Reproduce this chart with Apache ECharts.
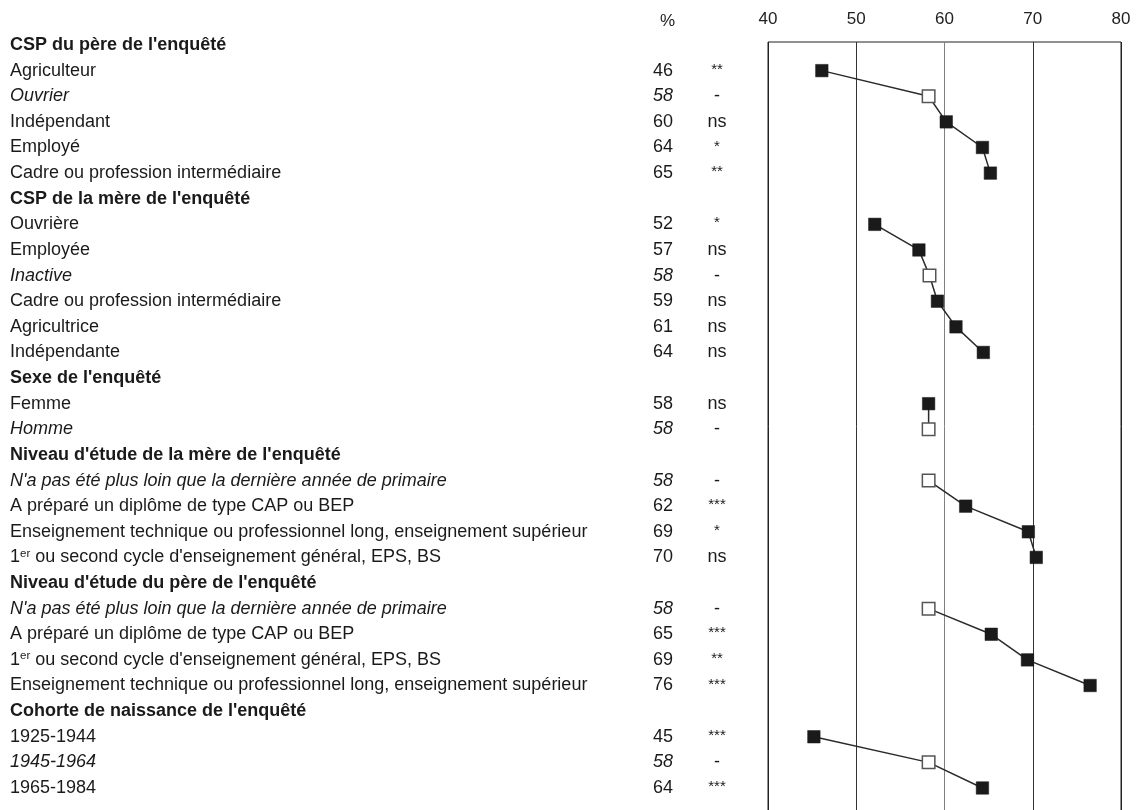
<!DOCTYPE html>
<html>
<head>
<meta charset="utf-8">
<script src="https://cdn.jsdelivr.net/npm/echarts@6/dist/echarts.min.js"></script>
<style>
html,body{margin:0;padding:0;background:#fff;}
#chart{width:1146px;height:810px;}
</style>
</head>
<body>
<div id="chart"></div>
<script>
const rowLabels = [
  "CSP du père de l'enquêté", "Agriculteur", "Ouvrier", "Indépendant", "Employé", "Cadre ou profession intermédiaire",
  "CSP de la mère de l'enquêté", "Ouvrière", "Employée", "Inactive", "Cadre ou profession intermédiaire", "Agricultrice", "Indépendante",
  "Sexe de l'enquêté", "Femme", "Homme",
  "Niveau d'étude de la mère de l'enquêté", "N'a pas été plus loin que la dernière année de primaire", "A préparé un diplôme de type CAP ou BEP", "Enseignement technique ou professionnel long, enseignement supérieur", "1er ou second cycle d'enseignement général, EPS, BS",
  "Niveau d'étude du père de l'enquêté", "N'a pas été plus loin que la dernière année de primaire", "A préparé un diplôme de type CAP ou BEP", "1er ou second cycle d'enseignement général, EPS, BS", "Enseignement technique ou professionnel long, enseignement supérieur",
  "Cohorte de naissance de l'enquêté", "1925-1944", "1945-1964", "1965-1984"
];
// h = group header, r = regular row, i = reference row (italic, open marker)
const rowKinds = ['h','r','i','r','r','r', 'h','r','r','i','r','r','r', 'h','r','i', 'h','i','r','r','r', 'h','i','r','r','r', 'h','r','i','r'];
const shownValues = ['', '46','58','60','64','65', '', '52','57','58','59','61','64', '', '58','58', '', '58','62','69','70', '', '58','65','69','76', '', '45','58','64'];
const significance = ['', '**','-','ns','*','**', '', '*','ns','-','ns','ns','ns', '', 'ns','-', '', '-','***','*','ns', '', '-','***','**','***', '', '***','-','***'];
const plotValues = [null, 46.1,58.2,60.2,64.3,65.2, null, 52.1,57.1,58.3,59.2,61.3,64.4, null, 58.2,58.2, null, 58.2,62.4,69.5,70.4, null, 58.2,65.3,69.4,76.5, null, 45.2,58.2,64.3];
const xTicks = [40, 50, 60, 70, 80];

const FONT = 'Liberation Sans';
const FS = 18;
const TXT = '#1a1a1a';

const rowKeys = rowLabels.map((_, i) => 'row' + i);

function labelFormatter(value, index) {
  const kind = rowKinds[index];
  let text = rowLabels[index];
  if (kind === 'h') return '{h|' + text + '}';
  const style = kind === 'i' ? 'i' : 'r';
  if (text.indexOf('1er ') === 0) {
    return '{' + style + '|1}{sup|er}{' + style + '|' + text.slice(3) + '}';
  }
  return '{' + style + '|' + text + '}';
}

function sigFormatter(v, i) {
  const s = significance[i];
  if (!s) return '';
  if (s.indexOf('*') === 0) return '{ast|' + s + '}';
  return '{r|' + s + '}';
}

const richStyles = {
  h: {fontFamily: FONT, fontSize: FS, fontWeight: 'bold', color: TXT, lineHeight: 20},
  r: {fontFamily: FONT, fontSize: FS, color: TXT, lineHeight: 20},
  i: {fontFamily: FONT, fontSize: FS, fontStyle: 'italic', color: TXT, lineHeight: 20},
  sup: {fontFamily: FONT, fontSize: 11.5, color: TXT, verticalAlign: 'top', lineHeight: 13},
  ast: {fontFamily: FONT, fontSize: 15, color: TXT, lineHeight: 20, padding: [0, 0, 2, 0]}
};

const seriesData = plotValues.map((v, i) => {
  if (v === null) return '-';
  if (rowKinds[i] === 'i') {
    return {value: v, itemStyle: {color: '#ffffff', borderColor: '#555555', borderWidth: 1.5}};
  }
  return v;
});

const plotLeft = 768, plotRight = 25;
const hiddenAxisBits = {axisLine: {show: false}, axisTick: {show: false}, splitLine: {show: false}};

const option = {
  animation: false,
  backgroundColor: '#ffffff',
  textStyle: {fontFamily: FONT},
  title: {
    text: '%', left: 655, top: 8,
    textStyle: {fontFamily: FONT, fontSize: 17, fontWeight: 'normal', color: '#222'}
  },
  grid: [
    {left: plotLeft, right: plotRight, top: 32.2, bottom: 9.2, containLabel: false, outerBoundsMode: 'none'},
    {left: plotLeft, right: plotRight, top: 42, bottom: -6, show: true, borderColor: '#222', borderWidth: 1, backgroundColor: 'transparent', containLabel: false, outerBoundsMode: 'none'}
  ],
  xAxis: [
    {gridIndex: 0, type: 'value', min: 40, max: 80, show: false},
    {
      gridIndex: 1, type: 'value', min: xTicks[0], max: xTicks[xTicks.length - 1], interval: 10, position: 'top',
      axisLine: {show: false}, axisTick: {show: false},
      axisLabel: {fontFamily: FONT, fontSize: 17, color: '#222', margin: 14,
        formatter: v => xTicks.indexOf(v) >= 0 ? String(v) : ''},
      splitLine: {show: true, lineStyle: {color: ['#222', '#333', '#808080', '#333', '#222'], width: 1}}
    }
  ],
  yAxis: [
    Object.assign({
      gridIndex: 0, type: 'category', data: rowKeys, inverse: true, position: 'left',
      axisLabel: {interval: 0, align: 'left', margin: plotLeft - 10, formatter: labelFormatter, rich: richStyles}
    }, hiddenAxisBits),
    Object.assign({
      gridIndex: 0, type: 'category', data: rowKeys, inverse: true, position: 'left',
      axisLabel: {interval: 0, align: 'left', margin: plotLeft - 653,
        formatter: (v, i) => rowKinds[i] === 'i' ? '{i|' + shownValues[i] + '}' : (shownValues[i] ? '{r|' + shownValues[i] + '}' : ''),
        rich: richStyles}
    }, hiddenAxisBits),
    Object.assign({
      gridIndex: 0, type: 'category', data: rowKeys, inverse: true, position: 'left',
      axisLabel: {interval: 0, align: 'center', margin: plotLeft - 717,
        formatter: sigFormatter,
        rich: richStyles}
    }, hiddenAxisBits),
    {gridIndex: 1, type: 'value', min: 0, max: 1, show: false}
  ],
  series: [
    {
      type: 'line',
      xAxisIndex: 0, yAxisIndex: 0,
      data: seriesData,
      connectNulls: false,
      showAllSymbol: true,
      symbol: 'rect',
      symbolSize: 12.5,
      lineStyle: {color: '#2a2a2a', width: 1.5},
      itemStyle: {color: '#1a1a1a', borderColor: '#1a1a1a', borderWidth: 0.5},
      emphasis: {disabled: true},
      z: 5
    }
  ]
};

const chart = echarts.init(document.getElementById('chart'), null, {renderer: 'canvas'});
chart.setOption(option);
</script>
</body>
</html>
